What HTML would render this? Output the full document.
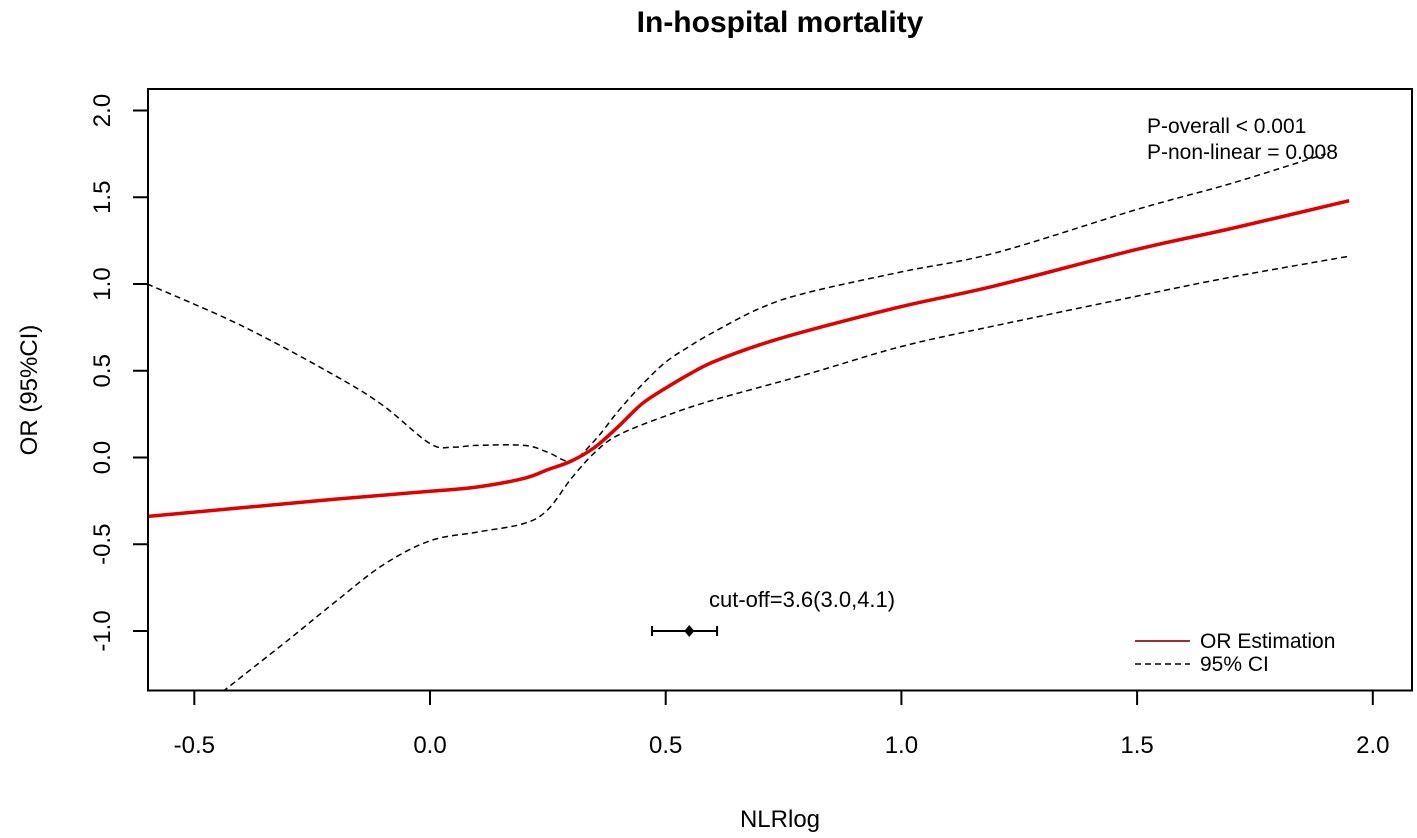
<!DOCTYPE html>
<html><head><meta charset="utf-8"><style>
html,body{margin:0;padding:0;background:#fff;}
svg{display:block;font-family:"Liberation Sans",Arial,sans-serif;}
</style></head><body>
<svg id="chart" width="1417" height="838" viewBox="0 0 1417 838">
<text x="780" y="32" text-anchor="middle" font-size="30" font-weight="bold">In-hospital mortality</text>
<text x="780" y="827" text-anchor="middle" font-size="24">NLRlog</text>
<text transform="translate(37,390) rotate(-90)" text-anchor="middle" font-size="24">OR (95%CI)</text>
<g id="axes"></g>
<g id="marks"></g>
<rect x="148" y="89" width="1264" height="601.5" fill="none" stroke="#000" stroke-width="2"/>
<text x="1147" y="133" font-size="21">P-overall &lt; 0.001</text>
<text x="1147" y="159" font-size="21">P-non-linear = 0.008</text>
<text x="709" y="607" font-size="22">cut-off=3.6(3.0,4.1)</text>
<g>
<line x1="1135" y1="641" x2="1190" y2="641" stroke="#a03030" stroke-width="2"/>
<text x="1200" y="648" font-size="21">OR Estimation</text>
<line x1="1135" y1="664" x2="1190" y2="664" stroke="#000" stroke-width="1.5" stroke-dasharray="6,4"/>
<text x="1200" y="671" font-size="21">95% CI</text>
</g>
</svg>
<script>
const xTicks = [-0.5, 0.0, 0.5, 1.0, 1.5, 2.0];
const xTickLabels = ["-0.5","0.0","0.5","1.0","1.5","2.0"];
const yTicks = [-1.0, -0.5, 0.0, 0.5, 1.0, 1.5, 2.0];
const yTickLabels = ["-1.0","-0.5","0.0","0.5","1.0","1.5","2.0"];
const orX = [-0.6,-0.4,-0.2,0,0.1,0.2,0.25,0.3,0.35,0.4,0.45,0.5,0.55,0.6,0.7,0.8,1.0,1.2,1.5,1.7,1.95];
const orY = [-0.34,-0.29,-0.24,-0.195,-0.17,-0.12,-0.07,-0.02,0.06,0.18,0.31,0.40,0.48,0.55,0.65,0.73,0.87,0.99,1.2,1.32,1.48];
const upX = [-0.6,-0.4,-0.2,-0.1,0,0.05,0.1,0.2,0.25,0.3,0.35,0.4,0.45,0.5,0.55,0.6,0.7,0.8,1.0,1.2,1.5,1.7,1.9];
const upY = [1.0,0.76,0.47,0.3,0.08,0.06,0.07,0.07,0.03,-0.02,0.1,0.27,0.42,0.55,0.64,0.72,0.86,0.95,1.07,1.18,1.43,1.58,1.75];
const loX = [-0.44,-0.3,-0.2,-0.1,0,0.1,0.2,0.25,0.3,0.35,0.4,0.5,0.6,0.8,1.0,1.2,1.5,1.7,1.95];
const loY = [-1.35,-1.05,-0.83,-0.62,-0.48,-0.43,-0.38,-0.3,-0.12,0.03,0.13,0.24,0.33,0.48,0.64,0.76,0.93,1.04,1.16];
const cutoff = [0.55, 0.471, 0.609, -1.0];

const NS = "http://www.w3.org/2000/svg";
function sx(v){ return 430 + v*471.4; }
function sy(v){ return 457.5 - v*173.5; }
const axes = document.getElementById('axes');
const marks = document.getElementById('marks');
function mk(tag, attrs, parent){ const e=document.createElementNS(NS,tag); for(const k in attrs) e.setAttribute(k,attrs[k]); parent.appendChild(e); return e; }

xTicks.forEach((t,i)=>{
  const l = mk('line',{x1:sx(t),x2:sx(t),y1:690.5,y2:705,stroke:'#000','stroke-width':2},axes);
  
  
  const tx = mk('text',{x:sx(t),y:753,'text-anchor':'middle','font-size':24},axes);
  tx.textContent = xTickLabels[i];
  
  
});
yTicks.forEach((t,i)=>{
  const l = mk('line',{x1:133,x2:148,y1:sy(t),y2:sy(t),stroke:'#000','stroke-width':2},axes);
  
  
  const tx = mk('text',{transform:`translate(110,${sy(t)}) rotate(-90)`,'text-anchor':'middle','font-size':24},axes);
  tx.textContent = yTickLabels[i];
  
  
});
function pathOf(xs,ys){
  const p = xs.map((x,i)=>[sx(x), sy(ys[i])]);
  let d = 'M'+p[0][0].toFixed(1)+','+p[0][1].toFixed(1);
  for(let i=0;i<p.length-1;i++){
    const p0=p[Math.max(0,i-1)], p1=p[i], p2=p[i+1], p3=p[Math.min(p.length-1,i+2)];
    const c1x=p1[0]+(p2[0]-p0[0])/6, c1y=p1[1]+(p2[1]-p0[1])/6;
    const c2x=p2[0]-(p3[0]-p1[0])/6, c2y=p2[1]-(p3[1]-p1[1])/6;
    d += ` C${c1x.toFixed(1)},${c1y.toFixed(1)} ${c2x.toFixed(1)},${c2y.toFixed(1)} ${p2[0].toFixed(1)},${p2[1].toFixed(1)}`;
  }
  return d;
}
const up = mk('path',{d:pathOf(upX,upY),fill:'none',stroke:'#000','stroke-width':1.5,'stroke-dasharray':'6,4'},marks);


const lo = mk('path',{d:pathOf(loX,loY),fill:'none',stroke:'#000','stroke-width':1.5,'stroke-dasharray':'6,4'},marks);


const orl = mk('path',{d:pathOf(orX,orY),fill:'none',stroke:'#e00000','stroke-width':3.5,'stroke-linejoin':'round'},marks);


const eb = mk('path',{d:`M${sx(cutoff[1])},${sy(cutoff[3])} L${sx(cutoff[2])},${sy(cutoff[3])} M${sx(cutoff[1])},${sy(cutoff[3])-5} L${sx(cutoff[1])},${sy(cutoff[3])+5} M${sx(cutoff[2])},${sy(cutoff[3])-5} L${sx(cutoff[2])},${sy(cutoff[3])+5}`,stroke:'#000','stroke-width':2,fill:'none'},marks);


const cx = sx(cutoff[0]), cy = sy(cutoff[3]);
const pt = mk('polygon',{points:`${cx},${cy-6} ${cx+5},${cy} ${cx},${cy+6} ${cx-5},${cy}`,fill:'#000'},marks);


const defs = mk('defs',{},document.getElementById('chart'));
const cp = mk('clipPath',{id:'clip'},defs);
mk('rect',{x:148,y:89,width:1264,height:601.5},cp);
marks.setAttribute('clip-path','url(#clip)');
</script>
</body></html>
